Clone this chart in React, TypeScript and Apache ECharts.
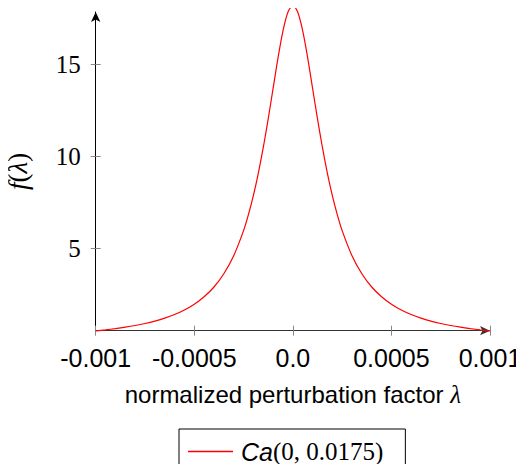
import React, { useEffect, useRef } from "react";
import * as echarts from "echarts";

const lambdaValues = [
  -0.001, -0.00095, -0.0009, -0.00085, -0.0008, -0.00075, -0.0007, -0.00065, -0.0006, -0.00055,
  -0.0005, -0.00045, -0.0004, -0.00035, -0.0003, -0.00025, -0.000225, -0.0002, -0.000175, -0.00015,
  -0.000125, -0.0001, -0.000075, -0.00005, -0.000025, 0,
  0.000025, 0.00005, 0.000075, 0.0001, 0.000125, 0.00015, 0.000175, 0.0002, 0.000225, 0.00025,
  0.0003, 0.00035, 0.0004, 0.00045, 0.0005, 0.00055, 0.0006, 0.00065, 0.0007, 0.00075,
  0.0008, 0.00085, 0.0009, 0.00095, 0.001,
];

const densityValues = [
  0.541, 0.597, 0.663, 0.74, 0.831, 0.939, 1.07, 1.229, 1.426, 1.672,
  1.985, 2.39, 2.92, 3.64, 4.62, 5.98, 6.86, 7.89, 9.1, 10.49,
  12.04, 13.71, 15.37, 16.82, 17.83, 18.19,
  17.83, 16.82, 15.37, 13.71, 12.04, 10.49, 9.1, 7.89, 6.86, 5.98,
  4.62, 3.64, 2.92, 2.39, 1.985, 1.672, 1.426, 1.229, 1.07, 0.939,
  0.831, 0.74, 0.663, 0.597, 0.541,
];

const xTickValues = [-0.001, -0.0005, 0, 0.0005, 0.001];
const xTickLabels = ["-0.001", "-0.0005", "0.0", "0.0005", "0.001"];
const yTickValues = [5, 10, 15];
const seriesName = "Ca(0, 0.0175)";

const X_MIN = -0.001;
const X_MAX = 0.001;
const Y_MIN = 0.55;
const Y_MAX = 17.84;

const SERIF = "'Liberation Serif', 'DejaVu Serif', serif";
const SANS = "'Liberation Sans', Arial, sans-serif";

export default function App() {
  const ref = useRef<HTMLDivElement>(null);

  useEffect(() => {
    if (!ref.current) return;
    const chart = echarts.init(ref.current, undefined, { renderer: "svg" });
    const data = lambdaValues.map((x, i) => [x, densityValues[i]]);

    const fmtX = (v: number) => {
      const idx = xTickValues.findIndex((t) => Math.abs(t - v) < 1e-9);
      return idx >= 0 ? xTickLabels[idx] : "";
    };

    chart.setOption({
      animation: false,
      backgroundColor: "#fff",
      grid: {
        left: 95.7,
        right: 34,
        top: 12,
        bottom: 141.3,
        containLabel: false,
        outerBoundsMode: "none",
      },
      xAxis: [
        {
          type: "value",
          min: X_MIN,
          max: X_MAX,
          position: "bottom",
          axisLine: {
            show: true,
            onZero: false,
            symbol: ["none", "arrow"],
            symbolSize: [7, 10],
            lineStyle: { color: "#333", width: 1 },
          },
          axisTick: {
            show: true,
            length: 5,
            customValues: xTickValues,
            lineStyle: { color: "#888", width: 1 },
          },
          axisLabel: {
            show: true,
            customValues: xTickValues,
            formatter: fmtX,
            fontFamily: SANS,
            fontSize: 25,
            color: "#000",
            margin: 15,
            showMinLabel: true,
            showMaxLabel: true,
          },
          splitLine: { show: false },
          name: "normalized perturbation factor {m|λ}",
          nameLocation: "middle",
          nameGap: 51,
          nameTextStyle: {
            fontFamily: SANS,
            fontSize: 24,
            color: "#000",
            rich: {
              m: { fontFamily: SERIF, fontStyle: "italic", fontSize: 25, color: "#000" },
            },
          },
        },
        {
          type: "value",
          min: X_MIN,
          max: X_MAX,
          position: "bottom",
          axisLine: { show: false, onZero: false },
          axisTick: {
            show: true,
            inside: true,
            length: 5,
            customValues: xTickValues,
            lineStyle: { color: "#888", width: 1 },
          },
          axisLabel: { show: false },
          splitLine: { show: false },
        },
      ],
      yAxis: [
        {
          type: "value",
          min: Y_MIN,
          max: Y_MAX,
          position: "left",
          axisLine: {
            show: true,
            onZero: false,
            symbol: ["none", "arrow"],
            symbolSize: [7, 10],
            lineStyle: { color: "#000", width: 1 },
          },
          axisTick: {
            show: true,
            length: 5,
            customValues: yTickValues,
            lineStyle: { color: "#888", width: 1 },
          },
          axisLabel: {
            show: true,
            customValues: yTickValues,
            fontFamily: SERIF,
            fontSize: 25,
            color: "#000",
            margin: 15,
          },
          splitLine: { show: false },
          name: "{i|f}{r|(}{i|λ}{r|)}",
          nameLocation: "middle",
          nameRotate: 90,
          nameGap: 64,
          nameTextStyle: {
            color: "#000",
            rich: {
              i: { fontFamily: SERIF, fontStyle: "italic", fontSize: 27, lineHeight: 28, color: "#000" },
              r: { fontFamily: SERIF, fontSize: 27, lineHeight: 28, color: "#000" },
            },
          },
        },
        {
          type: "value",
          min: Y_MIN,
          max: Y_MAX,
          position: "left",
          axisLine: { show: false, onZero: false },
          axisTick: {
            show: true,
            inside: true,
            length: 5,
            customValues: yTickValues,
            lineStyle: { color: "#888", width: 1 },
          },
          axisLabel: { show: false },
          splitLine: { show: false },
        },
      ],
      legend: {
        show: true,
        left: 179,
        top: 429,
        orient: "horizontal",
        padding: [10, 22, 14, 54],
        borderColor: "#000",
        borderWidth: 1,
        borderRadius: 0,
        itemWidth: 0,
        itemHeight: 0,
        icon: "rect",
        itemStyle: { color: "rgba(0,0,0,0)", borderWidth: 0 },
        data: [seriesName],
        formatter: () => "{a|Ca}{b|(0, 0.0175)}",
        textStyle: {
          rich: {
            a: {
              fontFamily: SANS,
              fontStyle: "italic",
              fontSize: 25,
              color: "#000",
              padding: [0, 0, 0, 3],
            },
            b: { fontFamily: SERIF, fontSize: 25, color: "#000" },
          },
        },
      },
      graphic: [
        {
          type: "line",
          z: 100,
          shape: { x1: 188, y1: 451.5, x2: 233, y2: 451.5 },
          style: { stroke: "#ff0000", lineWidth: 1.5 },
        },
      ],
      series: [
        {
          name: seriesName,
          type: "line",
          xAxisIndex: 0,
          yAxisIndex: 0,
          data,
          smooth: 0.3,
          symbol: "none",
          showSymbol: false,
          clip: false,
          lineStyle: { color: "#ff0000", width: 1.2 },
          itemStyle: { color: "#ff0000" },
        },
      ],
    });

    return () => chart.dispose();
  }, []);

  return <div ref={ref} style={{ width: 524, height: 472, margin: -8 }} />;
}
